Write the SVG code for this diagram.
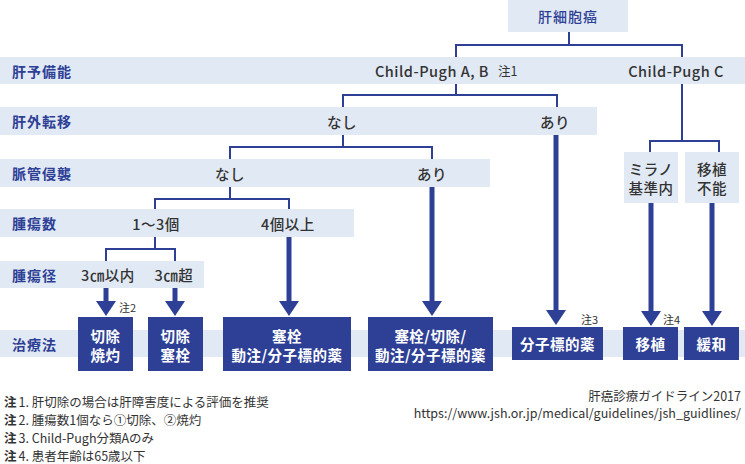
<svg xmlns="http://www.w3.org/2000/svg" width="745" height="464" viewBox="0 0 745 464">
<style>
text{font-family:"Noto Sans CJK JP","Noto Sans",sans-serif;dominant-baseline:central}
.band{fill:#e1e9f4}
.lbl{fill:#2e3f96;font-size:14px;font-weight:700;letter-spacing:1px}
.nd{fill:#333;font-size:14.5px;font-weight:500;text-anchor:middle;letter-spacing:0.5px}
.top{fill:#2e3f96;font-size:14px;font-weight:500;text-anchor:middle;letter-spacing:1px}
.tb{fill:#2e3f96}
.tt{fill:#fff;font-size:14.5px;font-weight:700;text-anchor:middle;letter-spacing:0.5px}
.note{fill:#333;font-size:11px}
.fn{fill:#333;font-size:12.5px}
.thin{fill:none;stroke:#2e3f96;stroke-width:2}
.thick{fill:none;stroke:#2e3f96;stroke-width:5}
</style>
<defs>
<marker id="ah" viewBox="0 0 15 20" markerWidth="15" markerHeight="20" refX="0" refY="10" orient="auto" markerUnits="userSpaceOnUse">
<path d="M0,0 L15,10 L0,20 Z" fill="#2e3f96"/>
</marker>
</defs>
<g id="bands">
<rect class="band" x="0" y="57" width="745" height="27"/>
<rect class="band" x="0" y="107" width="597" height="28"/>
<rect class="band" x="0" y="159" width="490" height="28"/>
<rect class="band" x="0" y="209" width="354" height="28"/>
<rect class="band" x="0" y="261" width="204" height="27"/>
<rect class="band" x="0" y="330" width="745" height="27"/>
</g>
<g id="row-labels">
<text class="lbl" x="12" y="70.5">肝予備能</text>
<text class="lbl" x="12" y="121">肝外転移</text>
<text class="lbl" x="12" y="173">脈管侵襲</text>
<text class="lbl" x="12" y="223">腫瘍数</text>
<text class="lbl" x="12" y="274.5">腫瘍径</text>
<text class="lbl" x="12" y="343.5">治療法</text>
</g>
<g id="connectors">
<path class="thin" d="M569,32 V45 M456,57 V45 H682 V57"/>
<path class="thin" d="M456,84 V95 M343,107 V95 H557 V107"/>
<path class="thin" d="M343,135 V147 M230,159 V147 H432 V159"/>
<path class="thin" d="M230,187 V199 M155,209 V199 H289 V209"/>
<path class="thin" d="M155,237 V249 M106,261 V249 H175 V261"/>
<path class="thin" d="M682,84 V141 M650,152 V141 H719 V152"/>
<line class="thick" x1="106" y1="288" x2="106" y2="301" marker-end="url(#ah)"/>
<line class="thick" x1="175" y1="288" x2="175" y2="301" marker-end="url(#ah)"/>
<line class="thick" x1="289" y1="237" x2="289" y2="301" marker-end="url(#ah)"/>
<line class="thick" x1="432" y1="187" x2="432" y2="301" marker-end="url(#ah)"/>
<line class="thick" x1="556" y1="135" x2="556" y2="310" marker-end="url(#ah)"/>
<line class="thick" x1="651" y1="203" x2="651" y2="311" marker-end="url(#ah)"/>
<line class="thick" x1="712" y1="203" x2="712" y2="311" marker-end="url(#ah)"/>
</g>
<g id="n-hcc">
<rect class="band" x="508" y="0" width="120" height="32"/>
<text class="top" x="568" y="16">肝細胞癌</text>
</g>
<g id="n-cpab"><text class="nd" x="375" y="70.5" style="text-anchor:start">Child-Pugh A, B</text><text class="note" x="498" y="70.5" style="font-size:12.5px">注1</text></g>
<g id="n-cpc"><text class="nd" x="676" y="70.5">Child-Pugh C</text></g>
<g id="n-meta-no"><text class="nd" x="342" y="121">なし</text></g>
<g id="n-meta-yes"><text class="nd" x="555" y="121">あり</text></g>
<g id="n-vasc-no"><text class="nd" x="230" y="173">なし</text></g>
<g id="n-vasc-yes"><text class="nd" x="432" y="173">あり</text></g>
<g id="n-num13"><text class="nd" x="156" y="223">1〜3個</text></g>
<g id="n-num4"><text class="nd" x="288" y="223">4個以上</text></g>
<g id="n-size3"><text class="nd" x="108" y="274.5">3㎝以内</text></g>
<g id="n-size3o"><text class="nd" x="174" y="274.5">3㎝超</text></g>
<g id="n-milan">
<rect class="band" x="624" y="152" width="54" height="51"/>
<text class="nd" x="651" y="168">ミラノ</text>
<text class="nd" x="651" y="187">基準内</text>
</g>
<g id="n-notx">
<rect class="band" x="685" y="152" width="54" height="51"/>
<text class="nd" x="712" y="168">移植</text>
<text class="nd" x="712" y="187">不能</text>
</g>
<g id="t-res-abl">
<rect class="tb" x="78" y="317" width="55" height="54"/>
<text class="tt" x="105.5" y="335">切除</text>
<text class="tt" x="105.5" y="354">焼灼</text>
<text class="note" x="119" y="307">注2</text>
</g>
<g id="t-res-emb">
<rect class="tb" x="148" y="317" width="55" height="54"/>
<text class="tt" x="175.5" y="335">切除</text>
<text class="tt" x="175.5" y="354">塞栓</text>
</g>
<g id="t-emb-hai">
<rect class="tb" x="223" y="317" width="128" height="54"/>
<text class="tt" x="287" y="335">塞栓</text>
<text class="tt" x="287" y="354">動注/分子標的薬</text>
</g>
<g id="t-emb-res-hai">
<rect class="tb" x="368" y="317" width="125" height="54"/>
<text class="tt" x="430.5" y="335">塞栓/切除/</text>
<text class="tt" x="430.5" y="354">動注/分子標的薬</text>
</g>
<g id="t-mt">
<rect class="tb" x="512" y="327" width="91" height="33"/>
<text class="tt" x="557.5" y="343.5">分子標的薬</text>
<text class="note" x="581" y="319">注3</text>
</g>
<g id="t-tx">
<rect class="tb" x="623" y="327" width="55" height="33"/>
<text class="tt" x="650.5" y="343.5">移植</text>
<text class="note" x="663" y="319">注4</text>
</g>
<g id="t-pal">
<rect class="tb" x="684" y="327" width="55" height="33"/>
<text class="tt" x="711.5" y="343.5">緩和</text>
</g>
<g id="footnotes">
<text class="fn" x="4" y="401"><tspan font-weight="700">注</tspan><tspan dx="2">1. 肝切除の場合は肝障害度による評価を推奨</tspan></text>
<text class="fn" x="4" y="419"><tspan font-weight="700">注</tspan><tspan dx="2">2. 腫瘍数1個なら①切除、②焼灼</tspan></text>
<text class="fn" x="4" y="437"><tspan font-weight="700">注</tspan><tspan dx="2">3. Child-Pugh分類Aのみ</tspan></text>
<text class="fn" x="4" y="455"><tspan font-weight="700">注</tspan><tspan dx="2">4. 患者年齢は65歳以下</tspan></text>
<text class="fn" x="741" y="395" style="text-anchor:end">肝癌診療ガイドライン2017</text>
<text class="fn" x="741" y="412.5" style="text-anchor:end">https://www.jsh.or.jp/medical/guidelines/jsh_guidlines/</text>
</g>
</svg>
